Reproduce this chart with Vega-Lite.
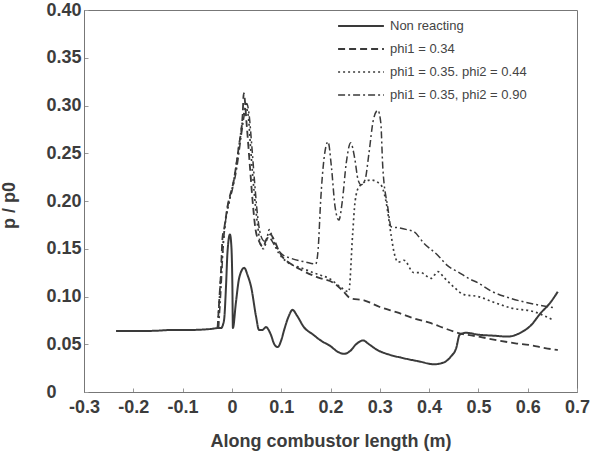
{
  "$schema": "https://vega.github.io/schema/vega-lite/v6.json",
  "width": 493,
  "height": 382,
  "autosize": {"type": "none"},
  "padding": {"left": 84, "top": 10, "right": 18, "bottom": 72},
  "background": "white",
  "config": {
    "view": {"stroke": "#777", "strokeWidth": 1},
    "font": "Liberation Sans"
  },
  "data": {
    "values": [
      {"s":"Non reacting","x":-0.235,"y":0.064},{"s":"Non reacting","x":-0.164,"y":0.064},{"s":"Non reacting","x":-0.12,"y":0.065},{"s":"Non reacting","x":-0.083,"y":0.065},{"s":"Non reacting","x":-0.043,"y":0.066},{"s":"Non reacting","x":-0.026,"y":0.067},{"s":"Non reacting","x":-0.022,"y":0.067},{"s":"Non reacting","x":-0.016,"y":0.075},{"s":"Non reacting","x":-0.012,"y":0.11},{"s":"Non reacting","x":-0.009,"y":0.146},{"s":"Non reacting","x":-0.004,"y":0.165},{"s":"Non reacting","x":-0.001,"y":0.152},{"s":"Non reacting","x":0.001,"y":0.11},{"s":"Non reacting","x":0.002,"y":0.067},{"s":"Non reacting","x":0.008,"y":0.093},{"s":"Non reacting","x":0.015,"y":0.12},{"s":"Non reacting","x":0.025,"y":0.13},{"s":"Non reacting","x":0.032,"y":0.122},{"s":"Non reacting","x":0.039,"y":0.11},{"s":"Non reacting","x":0.049,"y":0.079},{"s":"Non reacting","x":0.055,"y":0.065},{"s":"Non reacting","x":0.062,"y":0.065},{"s":"Non reacting","x":0.069,"y":0.068},{"s":"Non reacting","x":0.079,"y":0.06},{"s":"Non reacting","x":0.086,"y":0.05},{"s":"Non reacting","x":0.093,"y":0.047},{"s":"Non reacting","x":0.1,"y":0.054},{"s":"Non reacting","x":0.106,"y":0.065},{"s":"Non reacting","x":0.115,"y":0.079},{"s":"Non reacting","x":0.123,"y":0.086},{"s":"Non reacting","x":0.132,"y":0.08},{"s":"Non reacting","x":0.146,"y":0.068},{"s":"Non reacting","x":0.165,"y":0.06},{"s":"Non reacting","x":0.18,"y":0.054},{"s":"Non reacting","x":0.2,"y":0.048},{"s":"Non reacting","x":0.215,"y":0.042},{"s":"Non reacting","x":0.228,"y":0.04},{"s":"Non reacting","x":0.24,"y":0.043},{"s":"Non reacting","x":0.252,"y":0.05},{"s":"Non reacting","x":0.266,"y":0.054},{"s":"Non reacting","x":0.278,"y":0.05},{"s":"Non reacting","x":0.295,"y":0.044},{"s":"Non reacting","x":0.32,"y":0.039},{"s":"Non reacting","x":0.343,"y":0.036},{"s":"Non reacting","x":0.38,"y":0.032},{"s":"Non reacting","x":0.41,"y":0.029},{"s":"Non reacting","x":0.43,"y":0.031},{"s":"Non reacting","x":0.444,"y":0.037},{"s":"Non reacting","x":0.455,"y":0.046},{"s":"Non reacting","x":0.462,"y":0.06},{"s":"Non reacting","x":0.475,"y":0.062},{"s":"Non reacting","x":0.5,"y":0.06},{"s":"Non reacting","x":0.53,"y":0.059},{"s":"Non reacting","x":0.56,"y":0.058},{"s":"Non reacting","x":0.585,"y":0.062},{"s":"Non reacting","x":0.605,"y":0.069},{"s":"Non reacting","x":0.627,"y":0.083},{"s":"Non reacting","x":0.645,"y":0.093},{"s":"Non reacting","x":0.661,"y":0.105},

      {"s":"phi1 = 0.34","x":-0.029,"y":0.067},{"s":"phi1 = 0.34","x":-0.026,"y":0.093},{"s":"phi1 = 0.34","x":-0.022,"y":0.128},{"s":"phi1 = 0.34","x":-0.019,"y":0.162},{"s":"phi1 = 0.34","x":-0.016,"y":0.17},{"s":"phi1 = 0.34","x":-0.009,"y":0.194},{"s":"phi1 = 0.34","x":0.004,"y":0.222},{"s":"phi1 = 0.34","x":0.014,"y":0.257},{"s":"phi1 = 0.34","x":0.022,"y":0.292},{"s":"phi1 = 0.34","x":0.024,"y":0.313},{"s":"phi1 = 0.34","x":0.03,"y":0.28},{"s":"phi1 = 0.34","x":0.036,"y":0.24},{"s":"phi1 = 0.34","x":0.042,"y":0.2},{"s":"phi1 = 0.34","x":0.048,"y":0.17},{"s":"phi1 = 0.34","x":0.055,"y":0.158},{"s":"phi1 = 0.34","x":0.063,"y":0.152},{"s":"phi1 = 0.34","x":0.07,"y":0.16},{"s":"phi1 = 0.34","x":0.078,"y":0.165},{"s":"phi1 = 0.34","x":0.085,"y":0.16},{"s":"phi1 = 0.34","x":0.095,"y":0.148},{"s":"phi1 = 0.34","x":0.105,"y":0.14},{"s":"phi1 = 0.34","x":0.12,"y":0.134},{"s":"phi1 = 0.34","x":0.14,"y":0.128},{"s":"phi1 = 0.34","x":0.174,"y":0.12},{"s":"phi1 = 0.34","x":0.207,"y":0.114},{"s":"phi1 = 0.34","x":0.225,"y":0.106},{"s":"phi1 = 0.34","x":0.241,"y":0.098},{"s":"phi1 = 0.34","x":0.268,"y":0.096},{"s":"phi1 = 0.34","x":0.3,"y":0.089},{"s":"phi1 = 0.34","x":0.337,"y":0.083},{"s":"phi1 = 0.34","x":0.37,"y":0.077},{"s":"phi1 = 0.34","x":0.404,"y":0.072},{"s":"phi1 = 0.34","x":0.43,"y":0.067},{"s":"phi1 = 0.34","x":0.458,"y":0.062},{"s":"phi1 = 0.34","x":0.5,"y":0.058},{"s":"phi1 = 0.34","x":0.54,"y":0.054},{"s":"phi1 = 0.34","x":0.575,"y":0.051},{"s":"phi1 = 0.34","x":0.606,"y":0.049},{"s":"phi1 = 0.34","x":0.635,"y":0.046},{"s":"phi1 = 0.34","x":0.661,"y":0.044},

      {"s":"phi1 = 0.35. phi2 = 0.44","x":-0.029,"y":0.067},{"s":"phi1 = 0.35. phi2 = 0.44","x":-0.025,"y":0.1},{"s":"phi1 = 0.35. phi2 = 0.44","x":-0.02,"y":0.14},{"s":"phi1 = 0.35. phi2 = 0.44","x":-0.015,"y":0.17},{"s":"phi1 = 0.35. phi2 = 0.44","x":-0.005,"y":0.2},{"s":"phi1 = 0.35. phi2 = 0.44","x":0.005,"y":0.225},{"s":"phi1 = 0.35. phi2 = 0.44","x":0.015,"y":0.26},{"s":"phi1 = 0.35. phi2 = 0.44","x":0.022,"y":0.285},{"s":"phi1 = 0.35. phi2 = 0.44","x":0.028,"y":0.298},{"s":"phi1 = 0.35. phi2 = 0.44","x":0.033,"y":0.29},{"s":"phi1 = 0.35. phi2 = 0.44","x":0.038,"y":0.255},{"s":"phi1 = 0.35. phi2 = 0.44","x":0.045,"y":0.21},{"s":"phi1 = 0.35. phi2 = 0.44","x":0.052,"y":0.175},{"s":"phi1 = 0.35. phi2 = 0.44","x":0.058,"y":0.155},{"s":"phi1 = 0.35. phi2 = 0.44","x":0.064,"y":0.15},{"s":"phi1 = 0.35. phi2 = 0.44","x":0.07,"y":0.158},{"s":"phi1 = 0.35. phi2 = 0.44","x":0.076,"y":0.17},{"s":"phi1 = 0.35. phi2 = 0.44","x":0.082,"y":0.162},{"s":"phi1 = 0.35. phi2 = 0.44","x":0.09,"y":0.15},{"s":"phi1 = 0.35. phi2 = 0.44","x":0.1,"y":0.142},{"s":"phi1 = 0.35. phi2 = 0.44","x":0.115,"y":0.135},{"s":"phi1 = 0.35. phi2 = 0.44","x":0.14,"y":0.13},{"s":"phi1 = 0.35. phi2 = 0.44","x":0.17,"y":0.124},{"s":"phi1 = 0.35. phi2 = 0.44","x":0.2,"y":0.118},{"s":"phi1 = 0.35. phi2 = 0.44","x":0.22,"y":0.11},{"s":"phi1 = 0.35. phi2 = 0.44","x":0.237,"y":0.105},{"s":"phi1 = 0.35. phi2 = 0.44","x":0.245,"y":0.166},{"s":"phi1 = 0.35. phi2 = 0.44","x":0.25,"y":0.2},{"s":"phi1 = 0.35. phi2 = 0.44","x":0.258,"y":0.215},{"s":"phi1 = 0.35. phi2 = 0.44","x":0.282,"y":0.222},{"s":"phi1 = 0.35. phi2 = 0.44","x":0.302,"y":0.217},{"s":"phi1 = 0.35. phi2 = 0.44","x":0.312,"y":0.201},{"s":"phi1 = 0.35. phi2 = 0.44","x":0.323,"y":0.164},{"s":"phi1 = 0.35. phi2 = 0.44","x":0.329,"y":0.146},{"s":"phi1 = 0.35. phi2 = 0.44","x":0.337,"y":0.136},{"s":"phi1 = 0.35. phi2 = 0.44","x":0.349,"y":0.138},{"s":"phi1 = 0.35. phi2 = 0.44","x":0.369,"y":0.125},{"s":"phi1 = 0.35. phi2 = 0.44","x":0.383,"y":0.125},{"s":"phi1 = 0.35. phi2 = 0.44","x":0.404,"y":0.119},{"s":"phi1 = 0.35. phi2 = 0.44","x":0.418,"y":0.126},{"s":"phi1 = 0.35. phi2 = 0.44","x":0.43,"y":0.12},{"s":"phi1 = 0.35. phi2 = 0.44","x":0.45,"y":0.11},{"s":"phi1 = 0.35. phi2 = 0.44","x":0.471,"y":0.102},{"s":"phi1 = 0.35. phi2 = 0.44","x":0.499,"y":0.1},{"s":"phi1 = 0.35. phi2 = 0.44","x":0.531,"y":0.094},{"s":"phi1 = 0.35. phi2 = 0.44","x":0.566,"y":0.088},{"s":"phi1 = 0.35. phi2 = 0.44","x":0.613,"y":0.084},{"s":"phi1 = 0.35. phi2 = 0.44","x":0.653,"y":0.075},

      {"s":"phi1 = 0.35, phi2 = 0.90","x":-0.027,"y":0.067},{"s":"phi1 = 0.35, phi2 = 0.90","x":-0.022,"y":0.11},{"s":"phi1 = 0.35, phi2 = 0.90","x":-0.018,"y":0.15},{"s":"phi1 = 0.35, phi2 = 0.90","x":-0.01,"y":0.19},{"s":"phi1 = 0.35, phi2 = 0.90","x":0.0,"y":0.21},{"s":"phi1 = 0.35, phi2 = 0.90","x":0.01,"y":0.235},{"s":"phi1 = 0.35, phi2 = 0.90","x":0.018,"y":0.265},{"s":"phi1 = 0.35, phi2 = 0.90","x":0.025,"y":0.29},{"s":"phi1 = 0.35, phi2 = 0.90","x":0.03,"y":0.302},{"s":"phi1 = 0.35, phi2 = 0.90","x":0.035,"y":0.29},{"s":"phi1 = 0.35, phi2 = 0.90","x":0.04,"y":0.26},{"s":"phi1 = 0.35, phi2 = 0.90","x":0.046,"y":0.22},{"s":"phi1 = 0.35, phi2 = 0.90","x":0.052,"y":0.185},{"s":"phi1 = 0.35, phi2 = 0.90","x":0.058,"y":0.165},{"s":"phi1 = 0.35, phi2 = 0.90","x":0.066,"y":0.158},{"s":"phi1 = 0.35, phi2 = 0.90","x":0.075,"y":0.162},{"s":"phi1 = 0.35, phi2 = 0.90","x":0.085,"y":0.155},{"s":"phi1 = 0.35, phi2 = 0.90","x":0.1,"y":0.145},{"s":"phi1 = 0.35, phi2 = 0.90","x":0.12,"y":0.14},{"s":"phi1 = 0.35, phi2 = 0.90","x":0.15,"y":0.136},{"s":"phi1 = 0.35, phi2 = 0.90","x":0.17,"y":0.134},{"s":"phi1 = 0.35, phi2 = 0.90","x":0.175,"y":0.15},{"s":"phi1 = 0.35, phi2 = 0.90","x":0.18,"y":0.2},{"s":"phi1 = 0.35, phi2 = 0.90","x":0.187,"y":0.245},{"s":"phi1 = 0.35, phi2 = 0.90","x":0.195,"y":0.262},{"s":"phi1 = 0.35, phi2 = 0.90","x":0.202,"y":0.235},{"s":"phi1 = 0.35, phi2 = 0.90","x":0.209,"y":0.195},{"s":"phi1 = 0.35, phi2 = 0.90","x":0.217,"y":0.18},{"s":"phi1 = 0.35, phi2 = 0.90","x":0.224,"y":0.2},{"s":"phi1 = 0.35, phi2 = 0.90","x":0.232,"y":0.24},{"s":"phi1 = 0.35, phi2 = 0.90","x":0.241,"y":0.261},{"s":"phi1 = 0.35, phi2 = 0.90","x":0.249,"y":0.245},{"s":"phi1 = 0.35, phi2 = 0.90","x":0.256,"y":0.222},{"s":"phi1 = 0.35, phi2 = 0.90","x":0.262,"y":0.217},{"s":"phi1 = 0.35, phi2 = 0.90","x":0.27,"y":0.222},{"s":"phi1 = 0.35, phi2 = 0.90","x":0.278,"y":0.25},{"s":"phi1 = 0.35, phi2 = 0.90","x":0.287,"y":0.285},{"s":"phi1 = 0.35, phi2 = 0.90","x":0.296,"y":0.295},{"s":"phi1 = 0.35, phi2 = 0.90","x":0.302,"y":0.282},{"s":"phi1 = 0.35, phi2 = 0.90","x":0.306,"y":0.236},{"s":"phi1 = 0.35, phi2 = 0.90","x":0.316,"y":0.194},{"s":"phi1 = 0.35, phi2 = 0.90","x":0.323,"y":0.173},{"s":"phi1 = 0.35, phi2 = 0.90","x":0.337,"y":0.172},{"s":"phi1 = 0.35, phi2 = 0.90","x":0.355,"y":0.17},{"s":"phi1 = 0.35, phi2 = 0.90","x":0.369,"y":0.168},{"s":"phi1 = 0.35, phi2 = 0.90","x":0.389,"y":0.156},{"s":"phi1 = 0.35, phi2 = 0.90","x":0.418,"y":0.143},{"s":"phi1 = 0.35, phi2 = 0.90","x":0.438,"y":0.132},{"s":"phi1 = 0.35, phi2 = 0.90","x":0.458,"y":0.126},{"s":"phi1 = 0.35, phi2 = 0.90","x":0.48,"y":0.119},{"s":"phi1 = 0.35, phi2 = 0.90","x":0.5,"y":0.114},{"s":"phi1 = 0.35, phi2 = 0.90","x":0.525,"y":0.106},{"s":"phi1 = 0.35, phi2 = 0.90","x":0.566,"y":0.098},{"s":"phi1 = 0.35, phi2 = 0.90","x":0.613,"y":0.092},{"s":"phi1 = 0.35, phi2 = 0.90","x":0.657,"y":0.088}
    ]
  },
  "mark": {"type": "line", "color": "#3a3a3a", "interpolate": "monotone"},
  "encoding": {
    "x": {
      "field": "x", "type": "quantitative",
      "scale": {"domain": [-0.3, 0.7], "nice": false, "zero": false},
      "axis": {
        "values": [-0.3,-0.2,-0.1,0,0.1,0.2,0.3,0.4,0.5,0.6,0.7],
        "labelExpr": "datum.value == 0 ? '0' : replace(format(datum.value, '.1f'), '−', '-')",
        "grid": false, "domainColor": "#777", "tickColor": "#999", "tickSize": -4,
        "labelFont": "Liberation Sans", "labelFontSize": 18, "labelFontWeight": "bold", "labelColor": "#3c3c3c",
        "labelPadding": 10, "labelFlush": false,
        "title": "Along combustor length (m)",
        "titleFont": "Liberation Sans", "titleFontSize": 18, "titleFontWeight": "bold", "titleColor": "#3c3c3c",
        "titleY": 58, "titleBaseline": "bottom"
      }
    },
    "y": {
      "field": "y", "type": "quantitative",
      "scale": {"domain": [0, 0.4], "nice": false},
      "axis": {
        "values": [0,0.05,0.1,0.15,0.2,0.25,0.3,0.35,0.4],
        "labelExpr": "datum.value == 0 ? '0' : format(datum.value, '.2f')",
        "grid": false, "domainColor": "#777", "tickColor": "#999", "tickSize": -4,
        "labelFont": "Liberation Sans", "labelFontSize": 18, "labelFontWeight": "bold", "labelColor": "#3c3c3c",
        "labelAlign": "left", "labelPadding": 42, "labelFlush": false,
        "title": "p / p0",
        "titleFont": "Liberation Sans", "titleFontSize": 18, "titleFontWeight": "bold", "titleColor": "#3c3c3c",
        "titleX": -66, "titleY": 195
      }
    },
    "strokeWidth": {
      "field": "s", "type": "nominal",
      "scale": {
        "domain": ["Non reacting", "phi1 = 0.34", "phi1 = 0.35. phi2 = 0.44", "phi1 = 0.35, phi2 = 0.90"],
        "range": [2, 1.5, 1.5, 1.5]
      },
      "legend": null
    },
    "strokeDash": {
      "field": "s", "type": "nominal",
      "scale": {
        "domain": ["Non reacting", "phi1 = 0.34", "phi1 = 0.35. phi2 = 0.44", "phi1 = 0.35, phi2 = 0.90"],
        "range": [[1, 0], [7, 4], [2, 3], [7, 3, 2, 3]]
      },
      "legend": {
        "title": null,
        "orient": "none",
        "legendX": 253,
        "legendY": 9,
        "symbolType": "stroke",
        "symbolSize": 2100,
        "symbolStrokeWidth": 1.3,
        "symbolStrokeColor": "#3a3a3a",
        "clipHeight": 14,
        "rowPadding": 9,
        "labelFont": "Liberation Sans",
        "labelFontSize": 13,
        "labelColor": "#444",
        "labelOffset": 5,
        "labelLimit": 300,
        "padding": 0
      }
    }
  }
}
